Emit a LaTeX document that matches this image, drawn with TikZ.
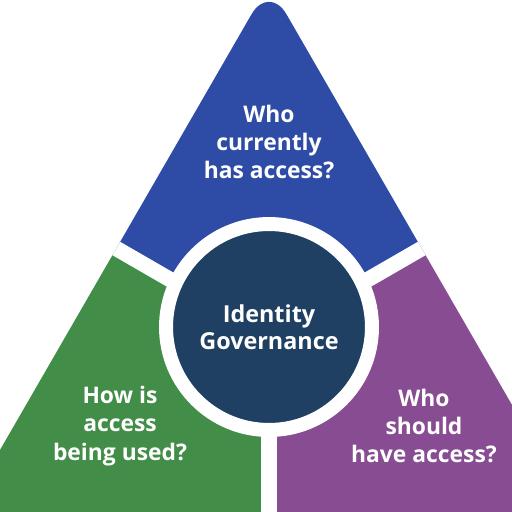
\documentclass[tikz,border=0pt]{standalone}
\usepackage{fontspec}
\setmainfont{Open Sans}
\usepackage{xcolor}
\usepackage{tikz}

\definecolor{azul}{HTML}{2E4CA6}
\definecolor{verde}{HTML}{428D48}
\definecolor{morado}{HTML}{874C91}
\definecolor{marino}{HTML}{1F4063}

\tikzset{
  pregunta/.style={text=white, align=center, font=\bfseries\fontsize{13}{16}\selectfont},
  separador/.style={white, line width=0.31cm},
  nucleo/.style={draw=white, line width=0.28cm, circle, fill=marino, minimum size=4.12cm,
    text=white, align=center, font=\bfseries\fontsize{13.3}{15.4}\selectfont}
}

\begin{document}
\begin{tikzpicture}[x=0.02cm, y=-0.02cm]
  \useasboundingbox (0,0) rectangle (512,512);
  \clip (0,0) rectangle (512,512);

  % Vertices del triangulo
  \coordinate (A) at (269,-16);
  \coordinate (B) at (-36.4,513);
  \coordinate (C) at (574.4,513);
  \coordinate (G) at (269,336.7);
  \coordinate (AB) at (116.3,248.5);
  \coordinate (AC) at (421.7,248.5);
  \coordinate (BC) at (269,513);

  % Regiones
  \fill[azul] (AB) [rounded corners=0.7cm] -- (A) [sharp corners] -- (AC) -- (G) -- cycle;
  \fill[verde] (AB) -- (B) -- (BC) -- (G) -- cycle;
  \fill[morado] (AC) -- (C) -- (BC) -- (G) -- cycle;

  % Separadores
  \draw[separador] (G) -- (AB);
  \draw[separador] (G) -- (AC);
  \draw[separador] (G) -- (BC);

  % Circulo central
  \node[nucleo] (ig) at (269,327) {Identity\\Governance};

  % Preguntas
  \node[pregunta] (quien) at (269,142) {Who\\currently\\has access?};
  \node[pregunta] (uso) at (120,426) {How is\\access\\being used?};
  \node[pregunta] (deberia) at (424,426) {Who\\should\\have access?};
\end{tikzpicture}
\end{document}
